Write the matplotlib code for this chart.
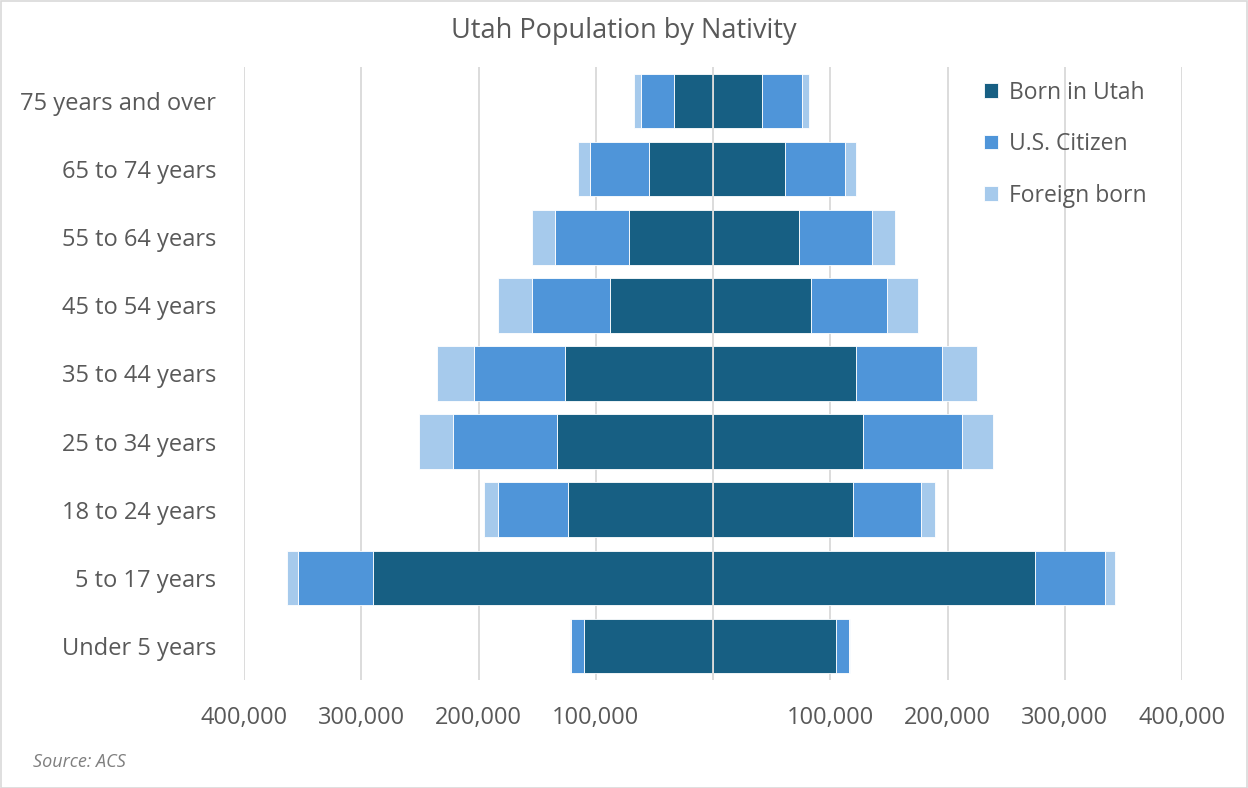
import matplotlib
matplotlib.use("Agg")
import matplotlib.pyplot as plt
from matplotlib.ticker import FuncFormatter, FixedLocator
from matplotlib.patches import Rectangle
import numpy as np

plt.rcParams['font.family'] = ['Open Sans', 'DejaVu Sans']

categories = ["Under 5 years", "5 to 17 years", "18 to 24 years", "25 to 34 years",
              "35 to 44 years", "45 to 54 years", "55 to 64 years", "65 to 74 years",
              "75 years and over"]
series = ["Born in Utah", "U.S. Citizen", "Foreign born"]

# Left side (segment sizes)
left_born = [110000, 290000, 124000, 133000, 126000, 88000, 72000, 55000, 33000]
left_us = [11000, 64000, 59000, 89000, 78000, 66000, 63000, 50000, 28000]
left_foreign = [1000, 9000, 12000, 29000, 31000, 29000, 19000, 10000, 6000]

# Right side (segment sizes)
right_born = [105000, 275000, 119000, 128000, 122000, 84000, 73000, 61000, 42000]
right_us = [11000, 59000, 58000, 84000, 73000, 64000, 63000, 52000, 34000]
right_foreign = [1000, 9000, 12000, 27000, 30000, 27000, 19000, 9000, 6000]

x_ticks = [-400000, -300000, -200000, -100000, 0, 100000, 200000, 300000, 400000]

colors = ["#175F83", "#4F95D9", "#A6CAEC"]
text_color = "#595959"
grid_color = "#D9D9D9"

fig = plt.figure(figsize=(12.48, 7.88), dpi=100)
ax = fig.add_axes([244/1248, 1-680/788, (1182-244)/1248, (680-67)/788])

y = np.arange(len(categories))
h = 0.8

lb = np.array(left_born); lu = np.array(left_us); lf = np.array(left_foreign)
rb = np.array(right_born); ru = np.array(right_us); rf = np.array(right_foreign)

kw = dict(height=h, edgecolor="white", linewidth=0.6, zorder=2)
ax.barh(y, -lb, color=colors[0], label=series[0], **kw)
ax.barh(y, -lu, left=-lb, color=colors[1], label=series[1], **kw)
ax.barh(y, -lf, left=-(lb + lu), color=colors[2], label=series[2], **kw)
ax.barh(y, rb, color=colors[0], **kw)
ax.barh(y, ru, left=rb, color=colors[1], **kw)
ax.barh(y, rf, left=rb + ru, color=colors[2], **kw)

ax.set_xlim(-400000, 400000)
ax.set_ylim(-0.5, len(categories) - 0.5)

for xt in x_ticks:
    ax.axvline(xt, color=grid_color, linewidth=1.3, zorder=1 if xt != 0 else 3)

ax.xaxis.set_major_locator(FixedLocator(x_ticks))
ax.xaxis.set_major_formatter(FuncFormatter(lambda v, p: "" if v == 0 else f"{abs(int(v)):,}"))
ax.set_yticks(y)
ax.set_yticklabels(categories)
ax.tick_params(axis="both", length=0, labelsize=17, labelcolor=text_color)
ax.tick_params(axis="x", pad=19)
ax.tick_params(axis="y", pad=20)
for s in ax.spines.values():
    s.set_visible(False)

leg = ax.legend(loc="upper left", bbox_to_anchor=((970-244)/(1182-244), 1.0),
                frameon=False, fontsize=16.5, labelcolor=text_color,
                handlelength=0.6, handleheight=0.6, handletextpad=0.5,
                labelspacing=1.2, borderaxespad=0.2)

fig.text(0.5, 1-31/788, "Utah Population by Nativity", ha="center", va="center",
         fontsize=19.5, color=text_color)
fig.text(33/1248, 1-762/788, "Source: ACS", ha="left", va="center",
         fontsize=13, color="#7F7F7F", style="italic")

fig.patches.append(Rectangle((0.5/1248, 0.5/788), 1-1.5/1248, 1-1.5/788,
                             transform=fig.transFigure, fill=False,
                             edgecolor="#D9D9D9", linewidth=1.2))

fig.savefig("out.png", dpi=100, facecolor="white")
